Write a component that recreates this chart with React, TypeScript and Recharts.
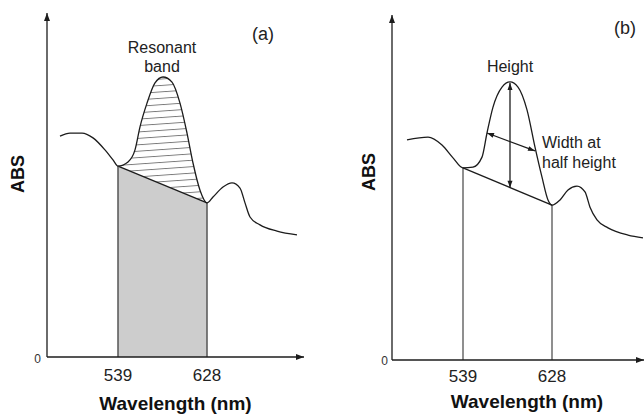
import React from 'react';
import { ComposedChart, Line, Area, XAxis, YAxis, ReferenceLine } from 'recharts';

// spectrum sampled for panel (a)
const wavelengthsA = [481, 491, 503, 514, 526, 534, 539, 549, 556, 561, 568, 576, 584, 593, 601, 608, 614, 621, 628, 634, 644, 653, 661, 666, 671, 681, 698, 718];
const absA = [0.642, 0.651, 0.651, 0.637, 0.602, 0.573, 0.555, 0.567, 0.602, 0.669, 0.738, 0.797, 0.814, 0.799, 0.738, 0.651, 0.564, 0.485, 0.448, 0.465, 0.494, 0.506, 0.491, 0.448, 0.407, 0.384, 0.366, 0.355];

// spectrum sampled for panel (b)
const wavelengthsB = [483, 504, 518, 529, 539, 549, 558, 563, 569, 578, 586, 594, 603, 611, 618, 624, 628, 636, 644, 653, 661, 666, 673, 684, 704, 719];
const absB = [0.638, 0.646, 0.623, 0.586, 0.557, 0.559, 0.588, 0.658, 0.733, 0.791, 0.806, 0.791, 0.725, 0.617, 0.53, 0.464, 0.449, 0.464, 0.493, 0.504, 0.487, 0.443, 0.406, 0.383, 0.362, 0.354];

const xTicks = [539, 628];
const yTicks = [0];
const bandEdges = [539, 628];

// annotation arrows in panel (b): [x1, y1, x2, y2]
const heightArrow = [586, 0.803, 586, 0.499];
const widthArrow = [563, 0.658, 611, 0.606];

const FONT = '"Liberation Sans", Arial, Helvetica, sans-serif';
const INK = '#1c1c1c';

const buildRows = (wl: number[], abs: number[]) =>
  wl.map((w, i) => ({
    wl: w,
    abs: abs[i],
    band: w >= bandEdges[0] && w <= bandEdges[1] ? abs[i] : null,
    base: bandEdges.includes(w) ? abs[i] : null,
  }));

const rowsA = buildRows(wavelengthsA, absA);
const rowsB = buildRows(wavelengthsB, absB);

const valueAt = (wl: number[], abs: number[], w: number) => abs[wl.indexOf(w)];

// line with optional filled arrowheads, used as a ReferenceLine shape
const arrowShape = (atStart: boolean, atEnd: boolean, len = 8, half = 3) => (props: any) => {
  const { x1, y1, x2, y2 } = props;
  const dx = x2 - x1;
  const dy = y2 - y1;
  const d = Math.hypot(dx, dy) || 1;
  const ux = dx / d;
  const uy = dy / d;
  const head = (tx: number, ty: number, sx: number, sy: number) => {
    const bx = tx - sx * len;
    const by = ty - sy * len;
    return `${tx},${ty} ${bx - sy * half},${by + sx * half} ${bx + sy * half},${by - sx * half}`;
  };
  return (
    <g>
      <line x1={x1} y1={y1} x2={x2} y2={y2} stroke={INK} strokeWidth={1.3} />
      {atStart && <polygon points={head(x1, y1, -ux, -uy)} fill={INK} />}
      {atEnd && <polygon points={head(x2, y2, ux, uy)} fill={INK} />}
    </g>
  );
};

const tickStyle = { fontSize: 17, fill: '#222', fontFamily: FONT };
const zeroStyle = { fontSize: 12, fill: '#333', fontFamily: FONT };
const titleStyle = { fontSize: 19, fontWeight: 'bold', fill: '#111', fontFamily: FONT };
const absStyle = { fontSize: 18, fontWeight: 'bold', fill: '#111', fontFamily: FONT };
const noteStyle = { fontSize: 16, fill: '#222', fontFamily: FONT };

const AbsTitle = ({ x, y }: { x: number; y: number }) => (
  <text transform={`translate(${x},${y}) rotate(-90)`} textAnchor="middle" style={absStyle}>
    ABS
  </text>
);

const PanelA = () => {
  const left = valueAt(wavelengthsA, absA, bandEdges[0]);
  const right = valueAt(wavelengthsA, absA, bandEdges[1]);
  return (
    <ComposedChart width={322} height={414} data={rowsA} margin={{ top: 13, right: 18, bottom: 0, left: 0 }}>
      <defs>
        <pattern id="hatch" width="12" height="6.4" patternUnits="userSpaceOnUse" patternTransform="rotate(-4)">
          <line x1="0" y1="0.5" x2="12" y2="0.5" stroke="#6a6a6a" strokeWidth="0.9" />
        </pattern>
      </defs>
      <XAxis
        type="number"
        dataKey="wl"
        domain={[468, 725]}
        ticks={xTicks}
        height={57}
        axisLine={false}
        tickLine={false}
        tickSize={0}
        tickMargin={12}
        tick={tickStyle}
        label={{ value: 'Wavelength (nm)', position: 'insideBottom', offset: 4, style: titleStyle }}
      />
      <YAxis
        type="number"
        domain={[0, 1]}
        ticks={yTicks}
        width={47}
        axisLine={false}
        tickLine={false}
        tickSize={0}
        tickMargin={6}
        tick={{ ...zeroStyle, dy: 2 }}
      />
      <Area type="monotone" dataKey="band" stroke="none" fill="url(#hatch)" fillOpacity={1} isAnimationActive={false} />
      <Area
        type="linear"
        dataKey="base"
        connectNulls
        stroke={INK}
        strokeWidth={1.3}
        fill="#cdcdcd"
        fillOpacity={1}
        isAnimationActive={false}
      />
      <ReferenceLine segment={[{ x: bandEdges[0], y: 0 }, { x: bandEdges[0], y: left }]} stroke="#555" strokeWidth={1.5} ifOverflow="visible" />
      <ReferenceLine segment={[{ x: bandEdges[1], y: 0 }, { x: bandEdges[1], y: right }]} stroke="#555" strokeWidth={1.5} ifOverflow="visible" />
      <Line type="monotone" dataKey="abs" stroke={INK} strokeWidth={1.3} dot={false} isAnimationActive={false} />
      <ReferenceLine segment={[{ x: 468, y: 0 }, { x: 725, y: 0 }]} shape={arrowShape(false, true)} ifOverflow="visible" />
      <ReferenceLine segment={[{ x: 468, y: 0 }, { x: 468, y: 1 }]} shape={arrowShape(false, true)} ifOverflow="visible" />
      <AbsTitle x={24} y={174} />
      <text x={162} y={53} textAnchor="middle" style={noteStyle}>Resonant</text>
      <text x={162} y={72} textAnchor="middle" style={noteStyle}>band</text>
      <text x={263} y={40} textAnchor="middle" style={{ ...noteStyle, fontSize: 18 }}>(a)</text>
      <text x={162} y={262} textAnchor="middle" style={noteStyle}>Non-</text>
      <text x={162} y={281} textAnchor="middle" style={noteStyle}>resonant</text>
      <text x={162} y={300} textAnchor="middle" style={noteStyle}>background</text>
    </ComposedChart>
  );
};

const PanelB = () => {
  const left = valueAt(wavelengthsB, absB, bandEdges[0]);
  const right = valueAt(wavelengthsB, absB, bandEdges[1]);
  return (
    <ComposedChart width={322} height={414} data={rowsB} margin={{ top: 15, right: 0, bottom: 0, left: 0 }}>
      <XAxis
        type="number"
        dataKey="wl"
        domain={[468, 720]}
        ticks={xTicks}
        height={54}
        axisLine={false}
        tickLine={false}
        tickSize={0}
        tickMargin={10}
        tick={tickStyle}
        label={{ value: 'Wavelength (nm)', position: 'insideBottom', offset: 6, dx: 9, style: titleStyle }}
      />
      <YAxis
        type="number"
        domain={[0, 1]}
        ticks={yTicks}
        width={70}
        axisLine={false}
        tickLine={false}
        tickSize={0}
        tickMargin={4}
        tick={{ ...zeroStyle, dy: 1 }}
      />
      <ReferenceLine segment={[{ x: bandEdges[0], y: 0 }, { x: bandEdges[0], y: left }]} stroke="#333" strokeWidth={1.1} ifOverflow="visible" />
      <ReferenceLine segment={[{ x: bandEdges[1], y: 0 }, { x: bandEdges[1], y: right }]} stroke="#333" strokeWidth={1.1} ifOverflow="visible" />
      <ReferenceLine segment={[{ x: bandEdges[0], y: left }, { x: bandEdges[1], y: right }]} stroke={INK} strokeWidth={1.3} ifOverflow="visible" />
      <Line type="monotone" dataKey="abs" stroke={INK} strokeWidth={1.3} dot={false} isAnimationActive={false} />
      <ReferenceLine
        segment={[{ x: heightArrow[0], y: heightArrow[1] }, { x: heightArrow[2], y: heightArrow[3] }]}
        shape={arrowShape(true, true, 7, 2.5)}
        ifOverflow="visible"
      />
      <ReferenceLine
        segment={[{ x: widthArrow[0], y: widthArrow[1] }, { x: widthArrow[2], y: widthArrow[3] }]}
        shape={arrowShape(true, true, 7, 2.5)}
        ifOverflow="visible"
      />
      <ReferenceLine segment={[{ x: 468, y: 0 }, { x: 720, y: 0 }]} shape={arrowShape(false, true)} ifOverflow="visible" />
      <ReferenceLine segment={[{ x: 468, y: 0 }, { x: 468, y: 1 }]} shape={arrowShape(false, true)} ifOverflow="visible" />
      <AbsTitle x={53} y={172} />
      <text x={188} y={72} textAnchor="middle" style={noteStyle}>Height</text>
      <text x={220} y={148} style={noteStyle}>Width at</text>
      <text x={220} y={168} style={noteStyle}>half height</text>
      <text x={303} y={34} textAnchor="middle" style={{ ...noteStyle, fontSize: 18 }}>(b)</text>
    </ComposedChart>
  );
};

export default function App() {
  return (
    <div style={{ position: 'absolute', left: 0, top: 0, width: 644, height: 414, background: '#fff', fontFamily: FONT, display: 'flex' }}>
      <PanelA />
      <PanelB />
    </div>
  );
}
